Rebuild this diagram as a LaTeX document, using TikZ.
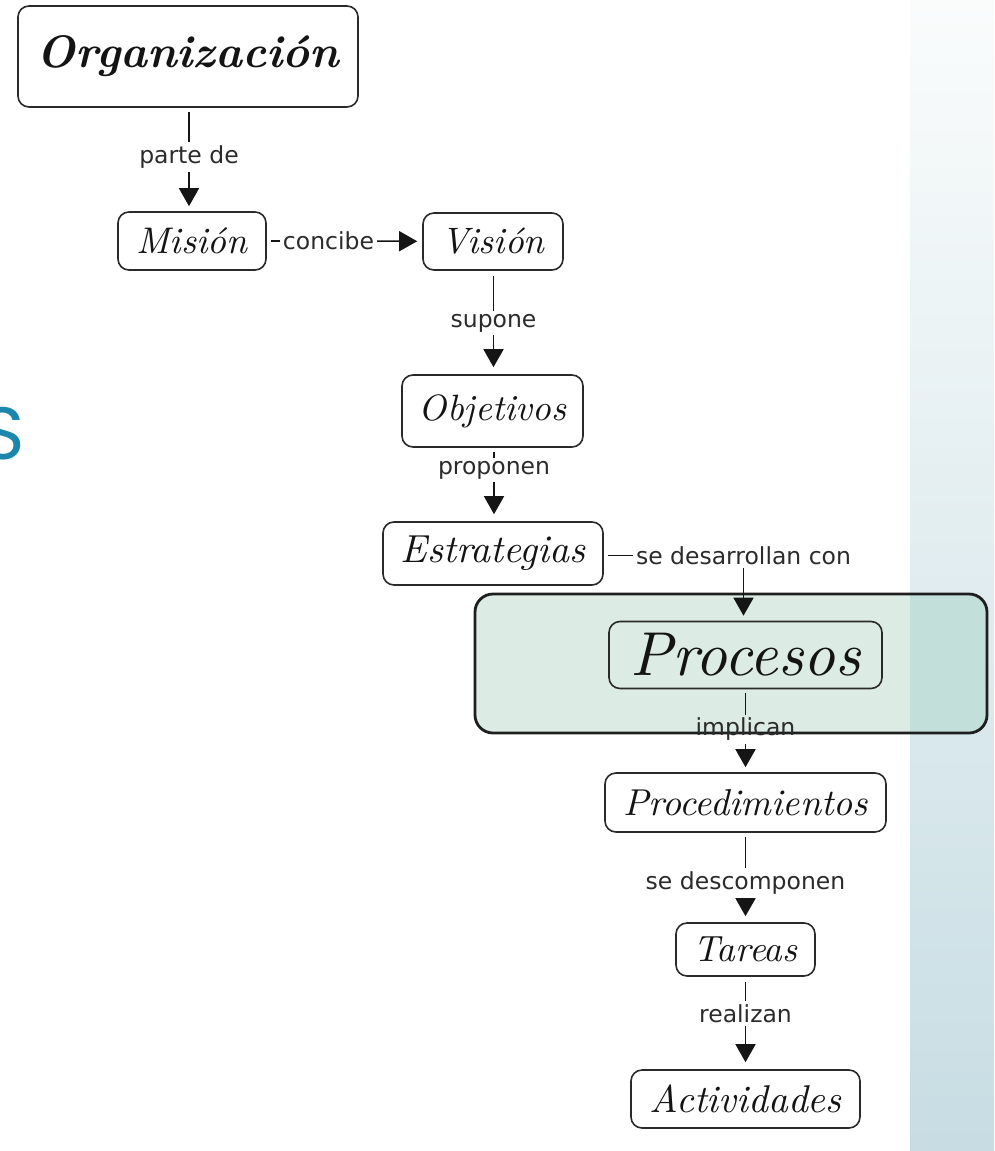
\documentclass[tikz,border=0pt]{standalone}
\usepackage{fontspec}
\usepackage{graphicx}
\usetikzlibrary{arrows.meta}
\setmainfont{Latin Modern Roman}
\newfontfamily\linkfont{DejaVu Sans}
\newfontfamily\headfont{Poppins}

\definecolor{boxline}{HTML}{2A2A2A}
\definecolor{linkline}{HTML}{151515}
\definecolor{linktext}{HTML}{2B2B2B}
\definecolor{groupfill}{HTML}{DDEBE5}
\definecolor{groupdark}{HTML}{C3DFD9}
\definecolor{groupline}{HTML}{1E1E1E}
\definecolor{stripTop}{HTML}{FAFCFC}
\definecolor{stripBottom}{HTML}{C7DDE3}
\definecolor{headblue}{HTML}{1B87AD}

% concept title set to a given width
\newcommand\ctitle[2]{\resizebox{#1pt}{!}{\itshape #2}}

\tikzset{
  concept/.style={draw=boxline, line width=1.6pt, rounded corners=11pt,
    fill=white, inner sep=0pt, text=black!92},
  linklabel/.style={font=\linkfont\fontsize{23.5}{28}\selectfont,
    text=linktext, inner sep=3pt},
  link/.style={draw=linkline, line width=1.5pt},
  arrowlink/.style={link, -{Triangle[width=20pt,length=18pt]}},
}

\begin{document}
\begin{tikzpicture}[x=1pt,y=-1pt]
\useasboundingbox (0,0) rectangle (994,1151);

% background strip on the right
\shade[top color=stripTop, bottom color=stripBottom] (910,0) rectangle (994,1151);

% cut-off heading letter
\node[anchor=base east, inner sep=0pt, text=headblue,
  font=\headfont\fontsize{74}{80}\selectfont] (head) at (25,459) {S};

% highlighted group around Procesos
\fill[groupfill, rounded corners=18pt] (475,594) rectangle (987,733);
\begin{scope}
  \clip (910,0) rectangle (994,1151);
  \fill[groupdark, rounded corners=18pt] (475,594) rectangle (987,733);
\end{scope}
\node[draw=groupline, line width=2.8pt, rounded corners=18pt,
  minimum width=512pt, minimum height=139pt, inner sep=0pt] (group) at (731,663.5) {};

% concepts
\node[concept, minimum width=340pt, minimum height=101pt] (org) at (188,56.5)
  {\ctitle{302}{\bfseries Organización}};
\node[concept, minimum width=148pt, minimum height=58pt] (mis) at (192,241)
  {\ctitle{111}{Misión}};
\node[concept, minimum width=140pt, minimum height=57pt] (vis) at (493,241.5)
  {\ctitle{103}{Visión}};
\node[concept, minimum width=181pt, minimum height=72pt] (obj) at (492.5,411)
  {\ctitle{147}{Objetivos}};
\node[concept, minimum width=220pt, minimum height=63pt] (est) at (493,553.5)
  {\ctitle{185}{Estrategias}};
\node[concept, fill=none, minimum width=273pt, minimum height=67pt] (proc) at (745.5,655)
  {\ctitle{230}{Procesos}};
\node[concept, minimum width=281pt, minimum height=59pt] (pdm) at (745.5,802.5)
  {\ctitle{245}{Procedimientos}};
\node[concept, minimum width=139pt, minimum height=53pt] (tar) at (745.5,949.5)
  {\ctitle{104}{Tareas}};
\node[concept, minimum width=229pt, minimum height=58pt] (act) at (745.5,1099)
  {\ctitle{192}{Actividades}};

% link labels
\node[linklabel] (l1) at (189,157) {parte de};
\node[linklabel] (l2) at (328.5,241) {concibe};
\node[linklabel] (l3) at (493.5,323) {supone};
\node[linklabel] (l4) at (494,470) {proponen};
\node[linklabel] (l5) at (743.5,555.5) {se desarrollan con};
\node[linklabel] (l6) at (745.5,729.5) {implican};
\node[linklabel] (l7) at (745.5,883) {se descomponen};
\node[linklabel] (l8) at (745.5,1013.5) {realizan};

% links
\draw[link, shorten <=4pt] (org.south -| l1) -- (l1);
\draw[arrowlink, shorten >=5pt] (l1) -- (l1 |- mis.north);

\draw[link, shorten <=4pt] (mis) -- (l2);
\draw[arrowlink, shorten >=5pt] (l2) -- (vis);

\draw[link, shorten <=5pt] (vis.south -| l3) -- (l3);
\draw[arrowlink, shorten >=7pt] (l3) -- (l3 |- obj.north);

\draw[link, shorten <=4pt] (obj.south -| l4) -- (l4);
\draw[arrowlink, shorten >=7pt] (l4) -- (l4 |- est.north);

\draw[link, shorten <=4pt] (est.east |- l5) -- (l5);
\draw[arrowlink, shorten >=5pt] (l5) -- (l5 |- proc.north);

\draw[link, shorten <=4pt] (proc) -- (l6);
\draw[arrowlink, shorten >=5pt] (l6) -- (pdm);

\draw[link, shorten <=4pt] (pdm) -- (l7);
\draw[arrowlink, shorten >=6pt] (l7) -- (tar);

\draw[link, shorten <=5pt] (tar) -- (l8);
\draw[arrowlink, shorten >=7pt] (l8) -- (act);
\end{tikzpicture}
\end{document}
